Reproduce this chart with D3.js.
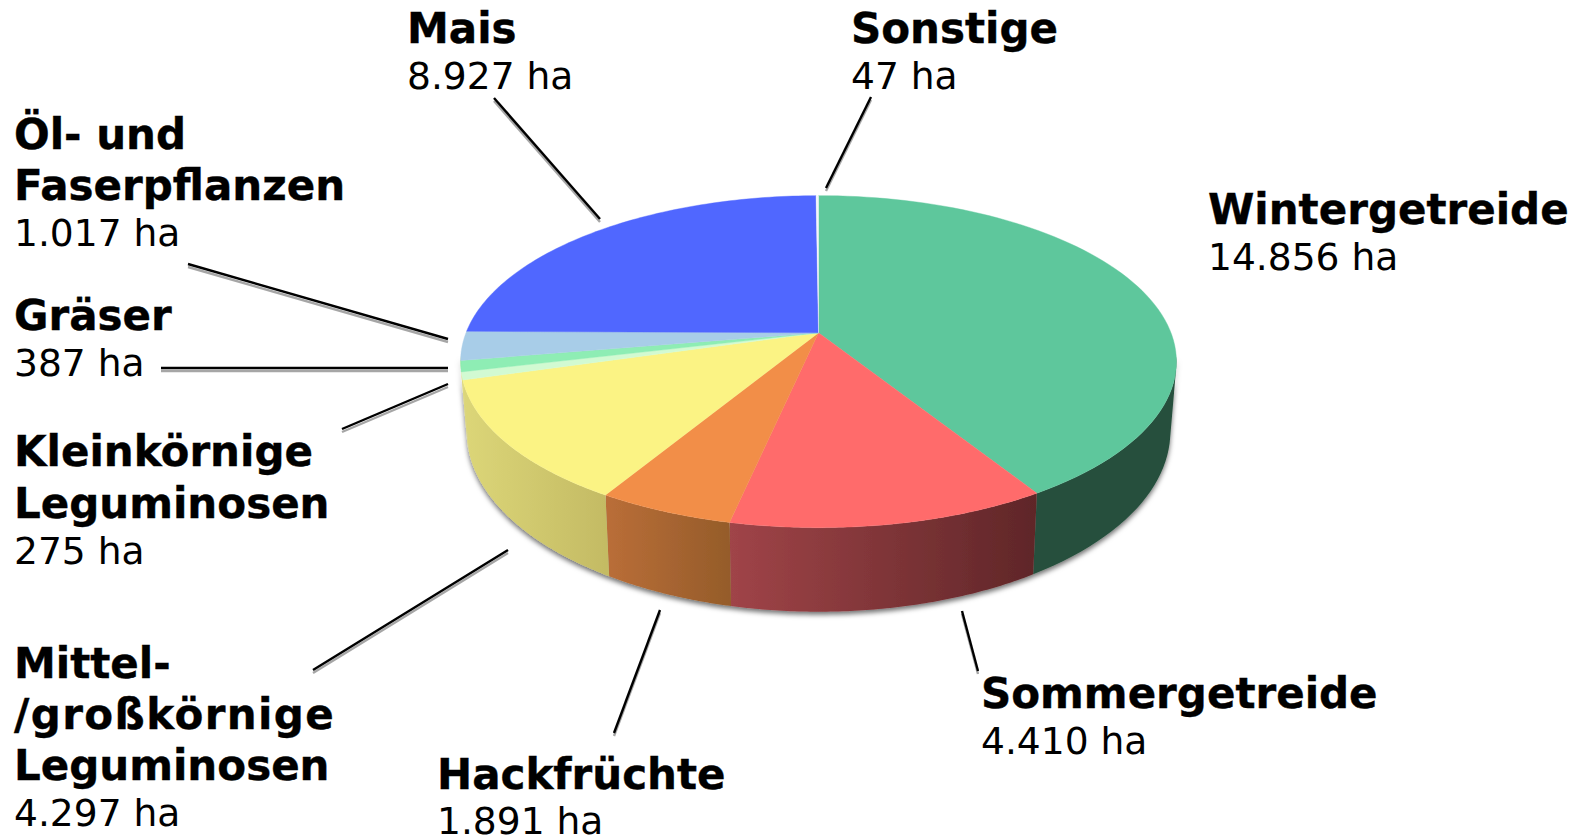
<!DOCTYPE html>
<html lang="de"><head><meta charset="utf-8">
<script src="https://cdn.jsdelivr.net/npm/d3@7"></script>
<style>html,body{margin:0;padding:0;background:#fff;overflow:hidden}svg{display:block}
text{font-family:"DejaVu Sans",sans-serif;fill:#000}
.n{font-weight:700;font-size:42px;stroke:#000;stroke-width:.4px}.v{font-size:37.6px}</style>
</head><body><svg id="c" width="1581" height="837"></svg>
<script>
const categories=["Wintergetreide","Sommergetreide","Hackfrüchte","Mittel-/großkörnige Leguminosen","Kleinkörnige Leguminosen","Gräser","Öl- und Faserpflanzen","Mais","Sonstige"];
const hectares=[14856,4410,1891,4297,275,387,1017,8927,47];
const topColors=["#5ec79c","#ff6b6b","#f28e48","#fbf384","#d2fad2","#8eedb4","#a8cde8","#5067ff","#f4f6f8"];
const sideLeft=["#26503d","#a04448","#ba6e38","#dcd678","#dcd678","#dcd678","#dcd678","#dcd678","#dcd678"];
const sideRight=["#26503d","#5f2628","#955c2a","#c4bb64","#dcd678","#dcd678","#dcd678","#dcd678","#dcd678"];
const nameLines=[["Wintergetreide"],["Sommergetreide"],["Hackfrüchte"],["Mittel-","/großkörnige","Leguminosen"],["Kleinkörnige","Leguminosen"],["Gräser"],["Öl- und","Faserpflanzen"],["Mais"],["Sonstige"]];
const labelX=[1208,981,437,14,14,14,14,407,851];
const labelBaselines=[[224,270],[708,753.5],[789,834],[678,729,780,825.5],[466,518,563.5],[330,375.5],[149,200,245.5],[43,88.5],[43,88.5]];
const leaderLines=[null,[962,611,978,671],[660,610,614,733],[508,550,313,670],[448,384,342,429],[448,368,161,368],[448,339,188,264],[600,219,494,98],[826,188,871,97]];

const svg=d3.select("#c"),defs=svg.append("defs");
const apex={x:818.5,y:332.8},A=352.5,B=161,K=0.1737,shrink=0.983,yStretch=1.085,yDrop=67.5;
const frontFrom=97*Math.PI/180,frontTo=262*Math.PI/180;
const project=a=>{const u=Math.sin(a),v=Math.cos(a),d=1+K*v;return [apex.x+A*u/d,apex.y-B*v/d];};
const lower=p=>[apex.x+(p[0]-apex.x)*shrink,apex.y+(p[1]-apex.y)*yStretch+yDrop];
const line=d3.line();
const arcs=d3.pie().sort(null)(hectares);
const samples=d=>d3.range(0,81).map(i=>d.startAngle+(d.endAngle-d.startAngle)*i/80);

const sh=defs.append("filter").attr("id","pieShadow").attr("filterUnits","userSpaceOnUse").attr("x",0).attr("y",0).attr("width",1581).attr("height",837);
sh.append("feDropShadow").attr("dx",0).attr("dy",3).attr("stdDeviation",2.5).attr("flood-color","#000").attr("flood-opacity",.55);
const ls=defs.append("filter").attr("id","lineShadow").attr("filterUnits","userSpaceOnUse").attr("x",0).attr("y",0).attr("width",1581).attr("height",837);
ls.append("feDropShadow").attr("dx",0).attr("dy",3).attr("stdDeviation",.6).attr("flood-color","#000").attr("flood-opacity",.35);

const sides=svg.append("g").attr("filter","url(#pieShadow)");
arcs.forEach((d,i)=>{
  const rim=samples(d).filter(a=>a>=frontFrom&&a<=frontTo).map(project);
  if(rim.length<2) return;
  const xs=rim.map(p=>p[0]);
  const g=defs.append("linearGradient").attr("id","side"+i).attr("gradientUnits","userSpaceOnUse")
    .attr("x1",d3.min(xs)).attr("x2",d3.max(xs)+.01).attr("y1",0).attr("y2",0);
  g.append("stop").attr("offset",0).attr("stop-color",sideLeft[i]);
  g.append("stop").attr("offset",1).attr("stop-color",sideRight[i]);
  const bot=rim.map(lower);
  const quads=d3.pairs(d3.range(rim.length)).map(([a,b])=>{
    const q=[rim[a],rim[b],bot[b],bot[a]];
    return line(d3.polygonArea(q)<0?q.reverse():q)+"Z";
  });
  sides.append("path").attr("d",quads.join("")).attr("fill",`url(#side${i})`).attr("fill-rule","nonzero");
});
const surface=svg.append("g");
arcs.forEach((d,i)=>{
  const pts=[[apex.x,apex.y]].concat(samples(d).map(project));
  surface.append("path").attr("d",line(pts)+"Z").attr("fill",topColors[i]).attr("stroke",topColors[i]).attr("stroke-width",.4);
});
const leaders=svg.append("g").attr("filter","url(#lineShadow)");
leaderLines.forEach(l=>{ if(!l) return;
  leaders.append("line").attr("x1",l[0]).attr("y1",l[1]).attr("x2",l[2]).attr("y2",l[3]).attr("stroke","#000").attr("stroke-width",2.4);
});
const fmt=d3.formatLocale({decimal:",",thousands:".",grouping:[3],currency:["","€"]}).format(",d");
categories.forEach((c,i)=>{
  const b=labelBaselines[i];
  nameLines[i].forEach((t,j)=>svg.append("text").attr("class","n").attr("x",labelX[i]).attr("y",b[j])
    .style("letter-spacing",t.startsWith("/")?"1.4px":null).text(t));
  svg.append("text").attr("class","v").attr("x",labelX[i]).attr("y",b[b.length-1]).text(fmt(hectares[i])+" ha");
});
</script></body></html>
